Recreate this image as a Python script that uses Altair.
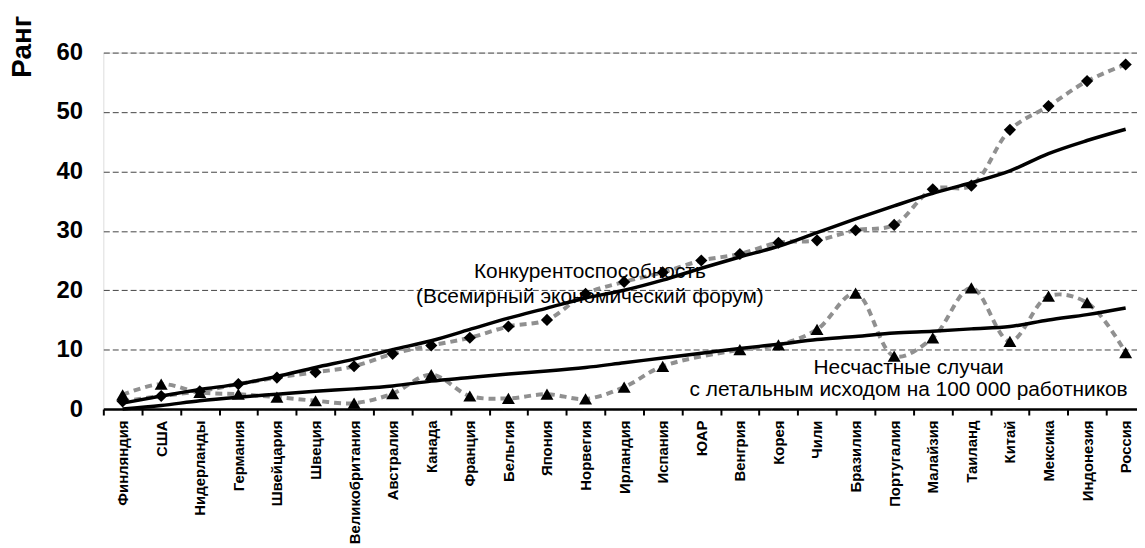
import altair as alt
import pandas as pd

countries = ["Финляндия", "США", "Нидерланды", "Германия", "Швейцария", "Швеция",
             "Великобритания", "Австралия", "Канада", "Франция", "Бельгия", "Япония",
             "Норвегия", "Ирландия", "Испания", "ЮАР", "Венгрия", "Корея", "Чили",
             "Бразилия", "Португалия", "Малайзия", "Таиланд", "Китай", "Мексика",
             "Индонезия", "Россия"]
competitiveness = [1.3, 2.2, 3.0, 4.2, 5.3, 6.2, 7.2, 9.3, 10.7, 12.0, 13.9, 15.0,
                   19.4, 21.4, 23.0, 25.0, 26.1, 28.0, 28.4, 30.1, 31.0, 37.0, 37.6,
                   47.0, 51.0, 55.2, 58.0]
competitiveness_trend = [1.0, 2.2, 3.3, 4.2, 5.5, 7.0, 8.4, 10.0, 11.5, 13.4, 15.3, 17.0,
                         18.7, 20.0, 21.7, 23.7, 25.6, 27.4, 29.7, 32.0, 34.2, 36.3, 38.1,
                         40.1, 43.0, 45.2, 47.1]
accidents = [2.4, 4.2, 2.8, 2.5, 2.0, 1.4, 1.0, 2.6, 5.8, 2.2, 1.8, 2.5, 1.7, 3.7, 7.2,
             None, 10.0, 10.8, 13.4, 19.5, 8.9, 12.0, 20.4, 11.4, 19.0, 17.9, 9.5]
accidents_trend = [0.0, 0.6, 1.4, 2.0, 2.5, 3.0, 3.4, 3.9, 4.7, 5.3, 5.9, 6.4, 7.0, 7.8,
                   8.6, 9.4, 10.2, 10.9, 11.7, 12.2, 12.8, 13.1, 13.5, 13.9, 15.0, 15.9, 17.0]
y_ticks = [0, 10, 20, 30, 40, 50, 60]
label_comp = ["Конкурентоспособность", "(Всемирный экономический форум)"]
label_acc = ["Несчастные случаи", "с летальным исходом на 100 000 работников"]
y_title = "Ранг"

df = pd.DataFrame({
    "country": countries,
    "comp": competitiveness,
    "comp_trend": competitiveness_trend,
    "acc": accidents,
    "acc_trend": accidents_trend,
})

FONT = "Liberation Sans"

x_enc = alt.X("country:N", sort=countries,
              scale=alt.Scale(domain=countries, range=[0, 1049], paddingInner=0, paddingOuter=0),
              axis=alt.Axis(title=None, labelAngle=-90, labelFont=FONT, labelFontWeight="bold",
                            labelFontSize=15, labelColor="black", labelPadding=5,
                            tickBand="extent", tickSize=6, tickWidth=2, tickColor="black",
                            domainColor="black", domainWidth=2.5, grid=False))


def yenc(field):
    return alt.Y(f"{field}:Q",
                 scale=alt.Scale(domain=[0, 60], nice=False),
                 axis=alt.Axis(title=None, values=y_ticks, labelFont=FONT,
                               labelFontWeight="bold", labelFontSize=24, labelColor="black",
                               labelPadding=21, ticks=False, domain=False,
                               grid=True, gridColor="#444", gridWidth=1, gridDash=[6, 3]))


base = alt.Chart(df)

comp_dash = base.mark_line(color="#909090", strokeWidth=4, strokeDash=[7, 5],
                           interpolate="catmull-rom").encode(x=x_enc, y=yenc("comp"))
acc_dash = base.transform_filter("isValid(datum.acc)").mark_line(
    color="#909090", strokeWidth=4, strokeDash=[7, 5],
    interpolate="catmull-rom").encode(x=x_enc, y=yenc("acc"))
comp_trend = base.mark_line(color="black", strokeWidth=3.5,
                            interpolate="monotone").encode(x=x_enc, y=yenc("comp_trend"))
acc_trend = base.mark_line(color="black", strokeWidth=3.5,
                           interpolate="monotone").encode(x=x_enc, y=yenc("acc_trend"))
comp_pts = base.mark_point(shape="diamond", filled=True, color="black", size=150,
                           opacity=1).encode(x=x_enc, y=yenc("comp"))
acc_pts = base.transform_filter("isValid(datum.acc)").mark_point(
    shape="triangle-up", filled=True, color="black", size=170,
    opacity=1).encode(x=x_enc, y=yenc("acc"))

txt_comp = alt.Chart(pd.DataFrame({"t": ["\n".join(label_comp)]})).mark_text(
    font=FONT, fontSize=21, color="black", align="center", baseline="alphabetic",
    lineBreak="\n", lineHeight=25).encode(text="t:N", x=alt.value(490), y=alt.value(227))
txt_acc = alt.Chart(pd.DataFrame({"t": ["\n".join(label_acc)]})).mark_text(
    font=FONT, fontSize=21, color="black", align="center", baseline="alphabetic",
    lineBreak="\n", lineHeight=22).encode(text="t:N", x=alt.value(811), y=alt.value(324))
txt_title = alt.Chart(pd.DataFrame({"t": [y_title]})).mark_text(
    font=FONT, fontSize=28, fontWeight="bold", color="black", align="center",
    baseline="middle", angle=270).encode(text="t:N", x=alt.value(-81), y=alt.value(-6))

chart = alt.layer(comp_dash, acc_dash, comp_trend, acc_trend, comp_pts, acc_pts,
                  txt_comp, txt_acc, txt_title).properties(
    width=1041, height=359,
    autosize=alt.AutoSizeParams(type="none"),
    padding={"left": 96, "top": 43, "right": 0, "bottom": 137},
).configure_view(stroke=None).configure(background="white")

chart.save("out.html", embed_options={"renderer": "svg", "actions": False})
